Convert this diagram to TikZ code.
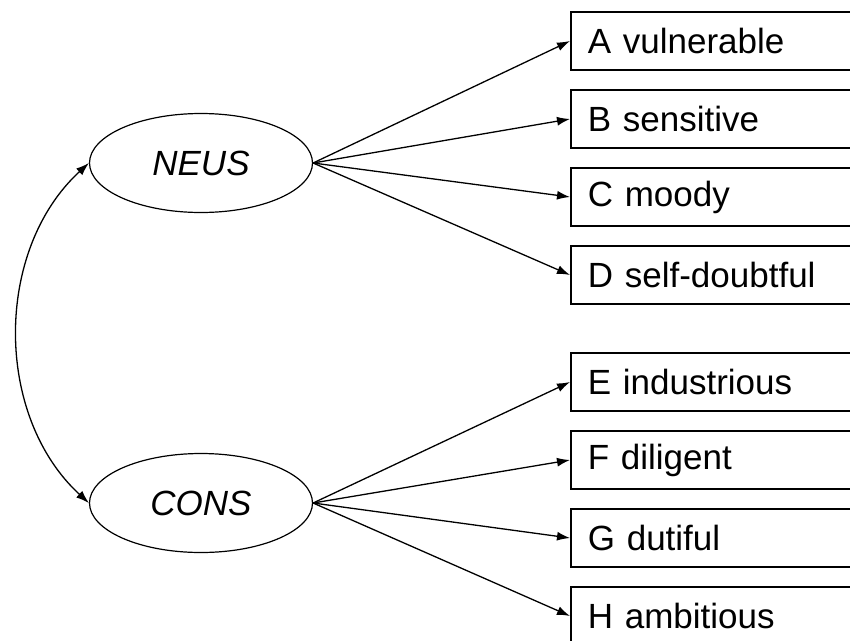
\documentclass[tikz,border=0pt]{standalone}
\usepackage{fontspec}
\setmainfont{Liberation Sans}
\usetikzlibrary{shapes.geometric,arrows.meta}
\begin{document}
\begin{tikzpicture}[x=1pt, y=-1pt,
    factor/.style={draw, ellipse, line width=1.2pt, minimum width=223pt, minimum height=99pt, inner sep=0pt, font=\fontsize{35}{42}\selectfont\itshape},
    item/.style={draw, rectangle, line width=1.8pt, anchor=west, minimum height=58pt, text width=300pt, inner xsep=17pt, inner ysep=0pt, align=left, font=\fontsize{35}{42}\selectfont},
    load/.style={-{Latex[length=13pt,width=9pt]}, line width=1.3pt}]
        \useasboundingbox (0,0) rectangle (850,640);
        \clip (0,0) rectangle (850,640);

        \node[factor] (N) at (201,163) {NEUS};
        \node[factor] (C) at (201,503) {CONS};

        \node[item] (a) at (570,41) {A vulnerable};
        \node[item] (b) at (570,119) {B sensitive};
        \node[item] (c) at (570,197) {C moody};
        \node[item] (d) at (570,275) {D self-doubtful};
        \node[item] (e) at (570,382) {E industrious};
        \node[item] (f) at (570,460) {F diligent};
        \node[item] (g) at (570,538) {G dutiful};
        \node[item] (h) at (570,616) {H ambitious};

        \path[load] (N.east) edge (a.west);
        \path[load] (N.east) edge (b.west);
        \path[load] (N.east) edge (c.west);
        \path[load] (N.east) edge (d.west);
        \path[load] (C.east) edge (e.west);
        \path[load] (C.east) edge (f.west);
        \path[load] (C.east) edge (g.west);
        \path[load] (C.east) edge (h.west);

        \draw[{Latex[length=13pt,width=9pt]}-{Latex[length=13pt,width=9pt]}, line width=1.3pt]
          (N.west) .. controls (-6,250) and (-6,416) .. (C.west);
      \end{tikzpicture}
\end{document}
